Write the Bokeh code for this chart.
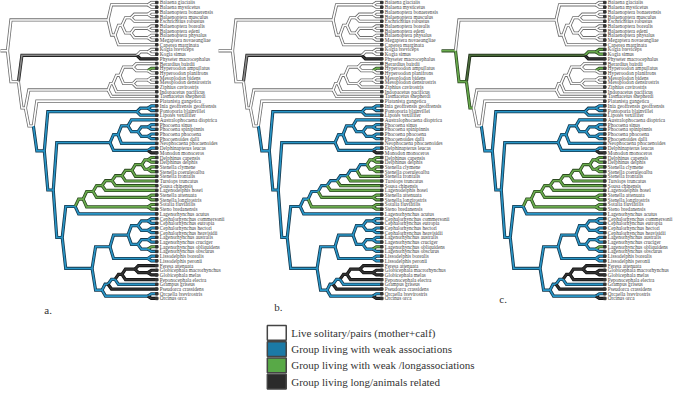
from bokeh.plotting import figure
from bokeh.models import Range1d, ColumnDataSource
from bokeh.embed import file_html
from bokeh.resources import INLINE
from bokeh.core.properties import value

# ---------------- data ----------------
tip_names = [
    "Balaena glacialis", "Balaena mysticetus", "Balaenoptera bonaerensis", "Balaenoptera musculus",
    "Eschrichtius robustus", "Balaenoptera borealis", "Balaenoptera edeni", "Balaenoptera physalus",
    "Megaptera novaeangliae", "Caperea marginata", "Kogia breviceps", "Kogia simus",
    "Physeter macrocephalus", "Berardius bairdii", "Hyperoodon ampullatus", "Hyperoodon planifrons",
    "Mesoplodon bidens", "Mesoplodon densirostris", "Ziphius cavirostris", "Indopacetus pacificus",
    "Tasmacetus shepherdi", "Platanista gangetica", "Inia geoffrensis geoffrensis", "Pontoporia blainvillei",
    "Lipotes vexillifer", "Australophocaena dioptrica", "Phocoena sinus", "Phocoena spinipinnis",
    "Phocoena phocoena", "Phocoenoides dalli", "Neophocaena phocaenoides", "Delphinapterus leucas",
    "Monodon monoceros", "Delphinus capensis", "Delphinus delphis", "Stenella clymene",
    "Stenella coeruleoalba", "Stenella frontalis", "Tursiops truncatus", "Sousa chinensis",
    "Lagenodelphis hosei", "Stenella attenuata", "Stenella longirostris", "Sotalia fluviatilis",
    "Steno bredanensis", "Lagenorhynchus acutus", "Cephalorhynchus commersonii", "Cephalorhynchus eutropia",
    "Cephalorhynchus hectori", "Cephalorhynchus heavisidii", "Lagenorhynchus australis", "Lagenorhynchus cruciger",
    "Lagenorhynchus obliquidens", "Lagenorhynchus obscurus", "Lissodelphis borealis", "Lissodelphis peronii",
    "Feresa attenuata", "Globicephala macrorhynchus", "Globicephala melas", "Peponocephala electra",
    "Grampus griseus", "Pseudorca crassidens", "Orcaella brevirostris", "Orcinus orca",
]

# internal nodes: id, depth (tree units), children (tip index or node id)
node_ids = ["root", "Myst", "Bal", "N1", "N2", "N3", "BM", "N4", "BE", "PM",
            "Odont", "Phys", "Kog", "O2", "Zip", "Z1", "Z2", "Z3", "Hyp", "Z4", "Mes",
            "O3", "O4", "IL", "IP", "Delo", "PM2", "Pho", "PhoA", "PhoB", "PS", "PD", "Mono",
            "Delph", "DL", "D7", "SS", "D6", "AL", "D5", "D4", "D3", "D2", "D1", "DD", "SC",
            "LG", "CLL", "CL", "C", "C1", "C2", "L", "L1", "L2", "Lis",
            "G6", "Orc", "G5", "G4", "G3", "G2", "G1"]
node_depth = [12, 113, 153, 120, 127, 136, 153, 136, 153, 153,
              23, 142, 153, 30, 113, 118, 125, 138, 153, 138, 153,
              38, 49, 142, 153, 58, 115, 123, 133, 143, 153, 153, 153,
              67, 80, 88, 153, 98, 153, 107, 117, 127, 137, 147, 153, 153,
              97, 115, 133, 143, 153, 153, 143, 153, 153, 153,
              107, 153, 113, 120, 127, 140, 153]
node_kids = [["Myst", "Odont"], ["Bal", "N1"], [0, 1], ["N2", 9], ["N3", "N4"], ["BM", 4], [2, 3],
             ["BE", "PM"], [5, 6], [7, 8],
             ["Phys", "O2"], ["Kog", 12], [10, 11], ["Zip", "O3"], ["Z1", 20], ["Z2", 19], ["Z3", "Z4"],
             [13, "Hyp"], [14, 15], ["Mes", 18], [16, 17],
             [21, "O4"], ["IL", "Delo"], ["IP", 24], [22, 23], ["PM2", "Delph"], ["Pho", "Mono"],
             ["PhoA", 30], [25, "PhoB"], ["PS", "PD"], [26, 27], [28, 29], [31, 32],
             ["DL", "LG"], ["D7", 45], ["D6", "SS"], [43, 44], ["D5", "AL"], [41, 42], ["D4", 40],
             ["D3", 39], ["D2", 38], ["D1", 37], ["DD", "SC"], [33, 34], [35, 36],
             ["CLL", "G6"], ["CL", "Lis"], ["C", "L"], ["C1", "C2"], [46, 47], [48, 49],
             ["L1", "L2"], [50, 51], [52, 53], [54, 55],
             ["G5", "Orc"], [62, 63], ["G4", 61], ["G3", 60], ["G2", 59], [56, "G1"], [57, 58]]
tip_depth = 162

# social-state reconstructions: branch colour changes (inherited downwards)
# w = solitary/pairs, b = weak associations, g = weak/long, k = long/related, x = uncertain (grey)
states_a = {"root": "w", "O4": "b", "D7": "g", "t14": "g", "t32": "k", "t52": "g",
            "G3": "k", "t61": "k", "t63": "k", "Phys": "x", "Kog": "w", "t12": "k"}
states_b = {"root": "w", "O4": "b", "D7": "b", "DD": "g", "SC": "g", "AL": "g", "SS": "g",
            "t37": "g", "t38": "g", "t39": "g", "t40": "g",
            "t14": "g", "t32": "k", "t52": "g",
            "G3": "k", "t61": "k", "t63": "k", "Phys": "x", "Kog": "w", "t12": "k"}
states_c = {"root": "g", "Myst": "w", "Odont": "g", "O2": "g", "Zip": "w", "O3": "w", "O4": "b",
            "D7": "g", "t14": "g", "t32": "k", "t52": "g", "G3": "k", "t61": "k", "t63": "k",
            "Phys": "G", "Kog": "g", "t12": "k"}

panel_offsets = [0, 226, 450]
panel_letters = ["a.", "b.", "c."]
letter_x = [49, 280, 506]
letter_y = [316, 313, 305]

legend_labels = ["Live solitary/pairs (mother+calf)",
                 "Group living with weak associations",
                 "Group living with weak /longassociations",
                 "Group living long/animals related"]
legend_codes = ["w", "b", "g", "k"]

fill_col = {"w": "#ffffff", "b": "#2896c8", "g": "#6aac4e", "k": "#333333", "x": "#8a8a8a",
            "G": "#4a6b3a"}
edge_col = {"w": "#6e6e6e", "b": "#16384d", "g": "#2c4a20", "k": "#111111", "x": "#222222",
            "G": "#1e2e18"}
legend_fill = {"w": "#ffffff", "b": "#1b7aa6", "g": "#58a947", "k": "#2b2b2b"}

TIP_Y0, TIP_DY = 4.0, 4.77

# ---------------- geometry ----------------
kids = dict(zip(node_ids, node_kids))
depth = dict(zip(node_ids, node_depth))


def ypos(n):
    if isinstance(n, int):
        return TIP_Y0 + n * TIP_DY
    ch = kids[n]
    return (ypos(ch[0]) + ypos(ch[-1])) / 2.0


def xpos(n):
    return tip_depth if isinstance(n, int) else depth[n]


def key(n):
    return "t%d" % n if isinstance(n, int) else n


p = figure(width=677, height=392, x_range=Range1d(5, 685), y_range=Range1d(400, 2),
           output_backend="svg", toolbar_location=None, min_border=0)
p.axis.visible = False
p.grid.visible = False
p.outline_line_color = None
p.background_fill_color = "white"

for off, states, letter, lx, ly in zip(panel_offsets, [states_a, states_b, states_c],
                                       panel_letters, letter_x, letter_y):
    xs, ys, st = [], [], []
    rx, ry = depth["root"] + off, ypos("root")
    xs.append([rx - 14, rx]); ys.append([ry, ry]); st.append(states["root"])

    def walk(n, state):
        px, py = xpos(n) + off, ypos(n)
        for c in kids[n]:
            cs = states.get(key(c), state)
            cx, cy = xpos(c) + off, ypos(c)
            d = min(3.5, (cx - px) / 2.0)
            xs.append([px, px + d, cx]); ys.append([py, cy, cy]); st.append(cs)
            if not isinstance(c, int):
                walk(c, cs)

    walk("root", states["root"])
    src = ColumnDataSource(dict(xs=xs, ys=ys, ec=[edge_col[s] for s in st],
                                fc=[fill_col[s] for s in st]))
    p.multi_line("xs", "ys", source=src, line_color="ec", line_width=3.2, line_join="miter")
    p.multi_line("xs", "ys", source=src, line_color="fc", line_width=1.6, line_join="miter")

    ty = [ypos(i) for i in range(len(tip_names))]
    tsrc = ColumnDataSource(dict(x=[tip_depth + off] * len(tip_names), y=ty, name=tip_names))
    p.scatter("x", "y", source=tsrc, marker="square", size=2.5, color="#333333")
    p.text(x=tip_depth + off + 3, y="y", text="name", source=tsrc, text_font=value("Liberation Serif"),
           text_font_size="5.2px", text_baseline="middle", text_color="#444444")
    p.text(x=[lx], y=[ly], text=[letter], text_font=value("Liberation Serif"), text_font_size="11px",
           text_baseline="middle", text_color="#333333")

# legend
n = len(legend_labels)
top = [332 + i * 16.5 for i in range(n)]
bot = [t + 15 for t in top]
p.quad(left=[273] * n, right=[292] * n, top=top, bottom=bot,
       fill_color=[legend_fill[c] for c in legend_codes], line_color="#444444", line_width=1.5)
p.text(x=[297] * n, y=[t + 7.5 for t in top], text=legend_labels, text_font=value("Liberation Serif"),
       text_font_size="11px", text_baseline="middle", text_color="#333333")

open("out.html", "w").write(file_html(p, INLINE))
